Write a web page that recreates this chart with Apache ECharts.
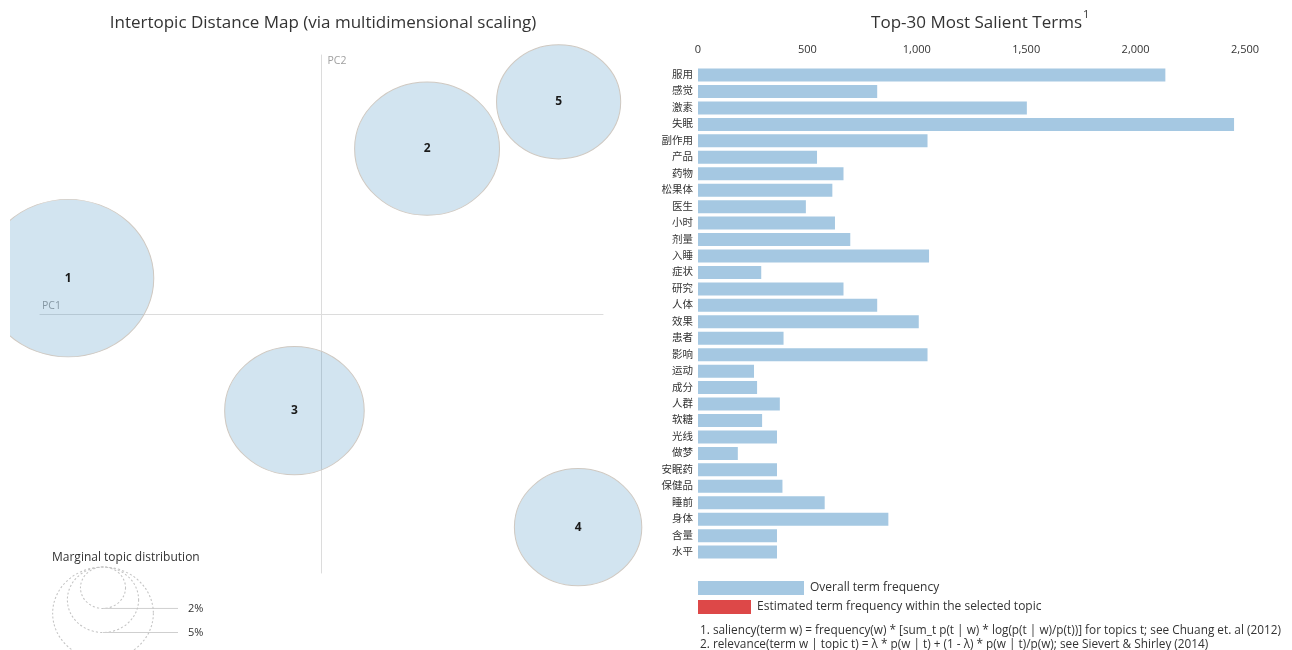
<!DOCTYPE html>
<html>
<head>
<meta charset="utf-8">
<script src="https://cdn.jsdelivr.net/npm/echarts@6/dist/echarts.min.js"></script>
<style>
  html, body { margin: 0; padding: 0; background: #fff; }
  #chart { width: 1292px; height: 650px; }
</style>
</head>
<body>
<div id="chart"></div>
<script>
// left panel: topics on the first two principal coordinates
const topicIds = [1, 2, 3, 4, 5];
const topicPC1 = [-0.234, 0.0975, -0.025, 0.237, 0.219];
const topicPC2 = [0.036, 0.166, -0.097, -0.214, 0.213];
const topicShare = [28.9, 20.7, 19.2, 16.0, 15.2];   // marginal topic distribution, %
const legendShares = [2, 5, 10];

// right panel: top-30 salient terms
const terms = ['服用', '感觉', '激素', '失眠', '副作用', '产品', '药物', '松果体', '医生', '小时',
  '剂量', '入睡', '症状', '研究', '人体', '效果', '患者', '影响', '运动', '成分',
  '人群', '软糖', '光线', '做梦', '安眠药', '保健品', '睡前', '身体', '含量', '水平'];
const termFreq = [2136, 819, 1503, 2450, 1049, 544, 665, 614, 493, 626,
  696, 1056, 289, 665, 819, 1009, 391, 1049, 256, 270,
  374, 293, 361, 182, 361, 386, 579, 870, 361, 361];
const freqTicks = [0, 500, 1000, 1500, 2000, 2500];

const FONT = "'Open Sans','Noto Sans CJK SC',sans-serif";
const BAR_BLUE = '#a5c8e2';
const R_PER_SQRT = 14.65;   // px radius per sqrt(% share)
const STRETCH = 1.087;      // x/y pixel ratio of the mds plot

const chart = echarts.init(document.getElementById('chart'));

// circle guide for marginal distribution
const guideTop = 567, guideX = 103;
const guideEls = [];
legendShares.forEach(s => {
    const r = R_PER_SQRT * Math.sqrt(s);
    guideEls.push({
        type: 'circle', x: guideX, y: guideTop + r, scaleX: STRETCH,
        shape: { cx: 0, cy: 0, r: r },
        style: { fill: 'none', stroke: '#c4c4c4', lineWidth: 1, lineDash: [2, 2] }
    });
    if (guideTop + 2 * r < 645) {
        guideEls.push({
            type: 'line',
            shape: { x1: guideX, y1: guideTop + 2 * r, x2: 178, y2: guideTop + 2 * r },
            style: { stroke: '#cfcfcf', lineWidth: 1 }
        });
        guideEls.push({
            type: 'text', x: 188, y: guideTop + 2 * r,
            style: { text: s + '%', font: '11px ' + FONT, fill: '#333', verticalAlign: 'middle' }
        });
    }
});

const option = {
    animation: false,
    backgroundColor: '#fff',
    textStyle: { fontFamily: FONT },
    grid: [
        { left: 40, top: 55, width: 563, height: 518 },
        { left: 698, top: 66.8, width: 547, height: 493.5 }
    ],
    xAxis: [
        {
            gridIndex: 0, type: 'value', min: -0.26, max: 0.26,
            axisLine: { show: true, onZero: true, lineStyle: { color: '#dcdcdc' } },
            axisTick: { show: false }, axisLabel: { show: false }, splitLine: { show: false },
            name: 'PC1', nameLocation: 'start', nameGap: -2,
            nameTextStyle: { color: '#a0a0a0', fontSize: 10.5, align: 'left', verticalAlign: 'bottom', padding: [0, 0, 3, 0] }
        },
        {
            gridIndex: 1, type: 'value', position: 'top',
            min: freqTicks[0], max: freqTicks[freqTicks.length - 1], interval: freqTicks[1] - freqTicks[0],
            axisLine: { show: false }, axisTick: { show: false }, splitLine: { show: false },
            axisLabel: {
                color: '#333', fontSize: 11, margin: 11,
                formatter: v => v.toLocaleString('en-US')
            }
        }
    ],
    yAxis: [
        {
            gridIndex: 0, type: 'value', min: -0.26, max: 0.26,
            axisLine: { show: true, onZero: true, lineStyle: { color: '#dcdcdc' } },
            axisTick: { show: false }, axisLabel: { show: false }, splitLine: { show: false },
            name: 'PC2', nameLocation: 'end', nameGap: -1,
            nameTextStyle: { color: '#a0a0a0', fontSize: 10.5, align: 'left', verticalAlign: 'top', padding: [0, 0, 0, 6] }
        },
        {
            gridIndex: 1, type: 'category', data: terms, inverse: true,
            axisLine: { show: false }, axisTick: { show: false },
            axisLabel: { color: '#333', fontSize: 10.5, margin: 5 }
        }
    ],
    series: [
        {
            type: 'scatter', xAxisIndex: 0, yAxisIndex: 0, clip: false,
            data: topicIds.map((id, i) => [topicPC1[i], topicPC2[i], topicShare[i], id]),
            symbolSize: v => {
                const r = R_PER_SQRT * Math.sqrt(v[2]);
                return [2 * r * STRETCH, 2 * r];
            },
            itemStyle: { color: 'rgba(31,119,180,0.2)', borderColor: '#cfc9c2', borderWidth: 1, opacity: 1 },
            label: {
                show: true, position: 'inside', formatter: p => p.value[3],
                color: '#1a1a1a', fontWeight: 'bold', fontSize: 12
            },
            emphasis: { disabled: true }
        },
        {
            type: 'bar', xAxisIndex: 1, yAxisIndex: 1,
            data: termFreq, barWidth: 13,
            itemStyle: { color: BAR_BLUE },
            emphasis: { disabled: true }
        }
    ],
    graphic: [
        { type: 'rect', shape: { x: 0, y: 0, width: 10, height: 650 }, style: { fill: '#fff' }, z: 100 },
        {
            type: 'text', x: 323, y: 23,
            style: { text: 'Intertopic Distance Map (via multidimensional scaling)', font: '17px ' + FONT, fill: '#333', align: 'center', verticalAlign: 'middle' }
        },
        {
            type: 'text', x: 1082, y: 23,
            style: { text: 'Top-30 Most Salient Terms', font: '17px ' + FONT, fill: '#333', align: 'right', verticalAlign: 'middle' }
        },
        {
            type: 'text', x: 1083, y: 15,
            style: { text: '1', font: '11px ' + FONT, fill: '#333', align: 'left', verticalAlign: 'middle' }
        },
        {
            type: 'text', x: 52, y: 558,
            style: { text: 'Marginal topic distribution', font: '12px ' + FONT, fill: '#333', verticalAlign: 'middle' }
        },
        ...guideEls,
        { type: 'rect', shape: { x: 698, y: 581, width: 106, height: 14 }, style: { fill: BAR_BLUE } },
        {
            type: 'text', x: 810, y: 588,
            style: { text: 'Overall term frequency', font: '12px ' + FONT, fill: '#333', verticalAlign: 'middle' }
        },
        { type: 'rect', shape: { x: 698, y: 600, width: 53, height: 14 }, style: { fill: '#dd4848' } },
        {
            type: 'text', x: 757, y: 607,
            style: { text: 'Estimated term frequency within the selected topic', font: '12px ' + FONT, fill: '#333', verticalAlign: 'middle' }
        },
        {
            type: 'text', x: 700, y: 631,
            style: { text: '1. saliency(term w) = frequency(w) * [sum_t p(t | w) * log(p(t | w)/p(t))] for topics t; see Chuang et. al (2012)', font: '11.8px ' + FONT, fill: '#333', verticalAlign: 'middle' }
        },
        {
            type: 'text', x: 700, y: 645,
            style: { text: '2. relevance(term w | topic t) = \u03bb * p(w | t) + (1 - \u03bb) * p(w | t)/p(w); see Sievert & Shirley (2014)', font: '11.8px ' + FONT, fill: '#333', verticalAlign: 'middle' }
        }
    ]
};

chart.setOption(option);
</script>
</body>
</html>
